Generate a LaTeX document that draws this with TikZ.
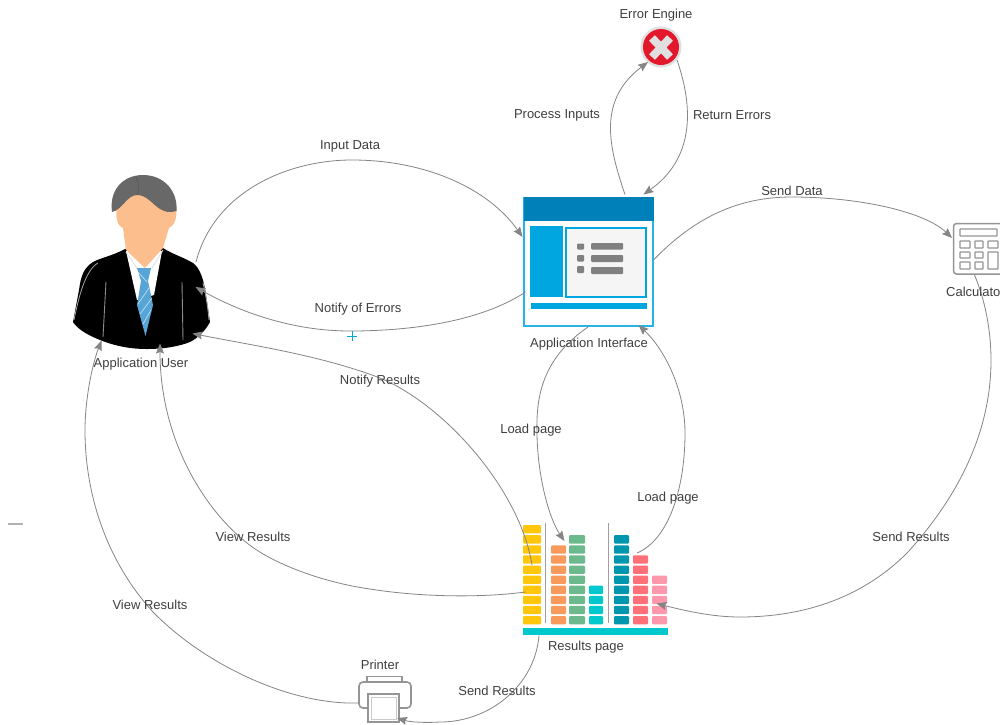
\documentclass[tikz,border=0pt]{standalone}
\usepackage{fontspec}
\setmainfont{Liberation Sans}
\usetikzlibrary{arrows.meta,calc}
\definecolor{lbl}{HTML}{3F3F3F}
\definecolor{conn}{HTML}{858585}
\definecolor{uib}{HTML}{00A6E0}
\definecolor{uih}{HTML}{0080B8}
\definecolor{ico}{HTML}{959595}
\definecolor{skin}{HTML}{FDBE8E}
\definecolor{hair}{HTML}{686868}
\definecolor{tie}{HTML}{56A5D6}
\definecolor{errred}{HTML}{E4182C}
\definecolor{barc}{HTML}{00C8CC}
\tikzset{
  lab/.style={text=lbl,font=\fontsize{13}{15}\selectfont,inner sep=0pt},
  iconbox/.style={inner sep=0pt,outer sep=0pt},
  link/.style={draw=conn,line width=0.8pt,-{Stealth[length=10pt,width=8pt,inset=1.5pt]}},
  cell/.style={rounded corners=1pt},
  gstroke/.style={draw=ico,line width=1.3pt}
}
\begin{document}
\begin{tikzpicture}[x=1pt,y=-1pt]
\clip (0,0) rectangle (1000,724);
\fill[white] (0,0) rectangle (1000,724);
% anchors of icons
\node[iconbox,minimum width=139pt,minimum height=175pt] (user) at (141.5,262.5) {};
\node[iconbox,minimum width=130pt,minimum height=130pt] (ui) at (588.5,261.5) {};
\node[iconbox,minimum width=40pt,minimum height=40pt] (engine) at (661,47) {};
\node[iconbox,minimum width=57pt,minimum height=52pt] (calc) at (981.5,249) {};
\node[iconbox,minimum width=145pt,minimum height=111pt] (results) at (595.5,579.5) {};
\node[iconbox,minimum width=54pt,minimum height=48pt] (printer) at (385,699) {};
% --- user icon
\fill[black] (125,249) .. controls (112,256) and (100,258) .. (93,262) .. controls (84,268) and (81,275) .. (79,290)
  -- (73,322) .. controls (78,330) and (90,336) .. (100,340) .. controls (115,346) and (130,349) .. (147,349)
  .. controls (165,349) and (180,346) .. (190,342) .. controls (198,338) and (206,330) .. (210,322)
  -- (206,295) .. controls (204,280) and (200,268) .. (193,263) .. controls (183,257) and (172,254) .. (163,248) -- cycle;
\fill[white] (126,251) -- (137,300) -- (154,295) -- (162,251) -- cycle;
% face
\fill[skin] (117,205) .. controls (118,185) and (172,185) .. (176,205)
 .. controls (178,218) and (174,226) .. (169,228) -- (163,248) -- (145,268) -- (126,250) -- (123,228)
 .. controls (117,226) and (115,216) .. (117,205) -- cycle;
\draw[white!75!gray,line width=0.8pt] (126,252) -- (137,268) (163,250) -- (152,268);
% hair
\fill[hair] (112,212) .. controls (109,190) and (123,175) .. (143,175)
 .. controls (163,175) and (178,190) .. (176.5,211) .. controls (170,213) and (165,212) .. (160,209)
 .. controls (152,204) and (147,195) .. (137,195) .. controls (127,195) and (122,210) .. (112,212) -- cycle;
\draw[hair!75!black,line width=0.4pt] (136,177) .. controls (139,182) and (139,190) .. (137,195);
% tie
\fill[tie] (137,268) -- (151,268) -- (148,281) -- (153,305) -- (145.5,336) -- (137,305) -- (141,281) -- cycle;
\draw[white!70!tie,line width=0.6pt] (138,304) -- (149,288) (140,314) -- (152,298) (143,324) -- (151,310) (138,272) -- (147,282);
% suit highlights
\draw[gray!90,line width=0.9pt] (106,282) -- (103,337) (182,282) -- (183,340);
\draw[gray!70,line width=0.8pt] (98,263) .. controls (85,270) and (78,300) .. (74,320);
\draw[gray!70,line width=0.8pt] (203,283) .. controls (207,300) and (208,310) .. (209,320);
% --- UI icon
\draw[draw=uib!85!white,fill=white,line width=1.4pt] (524,197.5) rectangle (653,326);
\fill[uih] (524,197) rectangle (653.5,221);
\fill[uib] (530,226) rectangle (563,297);
\draw[draw=uib,fill=black!4,line width=2pt] (565.5,227.5) rectangle (645.5,296.5);
\foreach \yy/\hh in {243.5/249.5,255/261.5,266/273}{
  \fill[fill=gray,rounded corners=1pt] (577,\yy) rectangle (584,\hh);
}
\foreach \yy/\hh in {243/249.5,255/262,267/274}{
  \fill[fill=gray,rounded corners=1pt] (591,\yy) rectangle (623,\hh);
}
\fill[uib] (531,303) rectangle (647,309);
% --- error icon
\fill[gray!25] (661,47) circle (20.5);
\fill[errred] (661,47) circle (18);
\draw[black!12,line width=8pt] (652,38) -- (670,57) (670,38) -- (652,57);
% --- calculator icon
\draw[gstroke,fill=white,rounded corners=3pt,line width=1.5pt] (953.5,223.5) rectangle (1012,274);
\foreach \xa/\xb/\ya/\yb in {960/997/229/236,960/970/241/248,975/983/241/248,988/998/241/248,960/970/252/258,975/983/252/258,988/998/252/269,960/970/262/269,975/983/262/269}{
  \draw[gstroke,rounded corners=0.5pt] (\xa,\ya) rectangle (\xb,\yb);
}
% --- printer icon
\draw[gstroke] (367,681) -- (367,676.5) -- (402,676.5) -- (402,681);
\draw[gstroke,line width=1.6pt,rounded corners=4pt,fill=white] (367,708) -- (359,708) -- (359,682) -- (411,682) -- (411,708) -- (399,708);
\draw[gstroke,line width=1.6pt,fill=white] (368,694) rectangle (399,722);
\draw[draw=ico!50,line width=0.8pt] (371,697) rectangle (396,719);
% --- results icon
\foreach \xa/\xb/\n/\c in {523/541/9/FFC60B,551/566/7/F79A5B,569/585/8/6CB98D,589/603/3/00C8CC,614/629/8/0096AE,633/648/6/FF7078,652/667/4/FF98AC}{
  \definecolor{cc}{HTML}{\c}
  \foreach \k in {0,...,\n}{
    \fill[cc,cell] (\xa,616-10.1*\k) rectangle (\xb,624.3-10.1*\k);
  }
}
\fill[barc] (523,628) rectangle (668,634.5);
\draw[draw=gray!75,line width=1pt] (545,523) -- (545,623) (608,523) -- (608,623);
% --- connectors
\draw[link] ($(user)+(54.5,-0.5)$) .. controls (214,192) and (287,160) .. (352,160) .. controls (425,160) and (488,188) .. ($(ui)+(-66,-24.5)$);
\draw[link] ($(ui)+(-63,30.5)$) .. controls (480,322) and (410,331) .. (350,331) .. controls (292,331) and (240,312) .. ($(user)+(54,24.5)$);
\draw[link] ($(ui)+(36.5,-67)$) .. controls (608,145) and (598,100) .. ($(engine)+(-13,15)$);
\draw[link] ($(engine)+(16,13)$) .. controls (695,112) and (692,160) .. ($(ui)+(55,-67)$);
\draw[link] ($(ui)+(65.5,-2)$) .. controls (700,212) and (745,197) .. (792,197) .. controls (860,197) and (925,212) .. ($(calc)+(-29.5,-11)$);
\draw[link] ($(calc)+(-7,26)$) .. controls (985,300) and (991,330) .. (991,360) .. controls (991,430) and (960,495) .. (907,553) .. controls (860,600) and (800,617) .. (740,617) .. controls (715,617) and (690,612) .. ($(results)+(61,24)$);
\draw[link] ($(ui)+(-0.5,65.5)$) .. controls (540,360) and (536,400) .. (537,435) .. controls (538,480) and (550,520) .. ($(results)+(-31,-38.5)$);
\draw[link] ($(results)+(41.5,-26.5)$) .. controls (668,540) and (685,490) .. (685,433) .. controls (685,390) and (665,350) .. ($(ui)+(50,63.5)$);
\draw[link] ($(results)+(-63.5,-14.5)$) .. controls (520,490) and (445,405) .. (380,378) .. controls (320,355) and (250,345) .. ($(user)+(51,71)$);
\draw[link] ($(results)+(-70,12.5)$) .. controls (480,598) and (420,597) .. (370,589) .. controls (320,582) and (270,562) .. (247,543) .. controls (205,510) and (160,440) .. ($(user)+(18.5,81)$);
\draw[link] ($(printer)+(-27,4)$) .. controls (290,705) and (205,665) .. (153,612) .. controls (110,565) and (85,500) .. (85,430) .. controls (85,400) and (92,365) .. ($(user)+(-40,78)$);
\draw[link] ($(results)+(-56.5,56)$) .. controls (535,685) and (490,722) .. (440,722) .. controls (425,723) and (410,722) .. ($(printer)+(12,19)$);
% --- labels
\node[lab] (lEngine) at (656,15) {Error Engine};
\node[lab] (lProcess) at (557,115) {Process Inputs};
\node[lab] (lReturn) at (732,115) {Return Errors};
\node[lab] (lInput) at (350,146) {Input Data};
\node[lab] (lSend) at (792,191) {Send Data};
\node[lab] (lNotifyE) at (358,309) {Notify of Errors};
\node[lab] (lUser) at (141,364) {Application User};
\node[lab] (lUi) at (589,344) {Application Interface};
\node[lab,anchor=west] (lCalc) at (946,292) {Calculator};
\node[lab] (lNotifyR) at (380,381) {Notify Results};
\node[lab] (lLoadA) at (531,430) {Load page};
\node[lab] (lLoadB) at (668,498) {Load page};
\node[lab] (lViewA) at (253,537) {View Results};
\node[lab] (lSendR) at (911,537) {Send Results};
\node[lab] (lViewB) at (150,605) {View Results};
\node[lab] (lResults) at (586,647) {Results page};
\node[lab] (lPrinter) at (380,665) {Printer};
\node[lab] (lSendP) at (497,691) {Send Results};
% stray marks
\draw[draw=uib,line width=1pt] (347,336) -- (357,336) (352,331) -- (352,341);
\fill[fill=gray!60] (8,522.5) rectangle (23,524.5);
\end{tikzpicture}
\end{document}
